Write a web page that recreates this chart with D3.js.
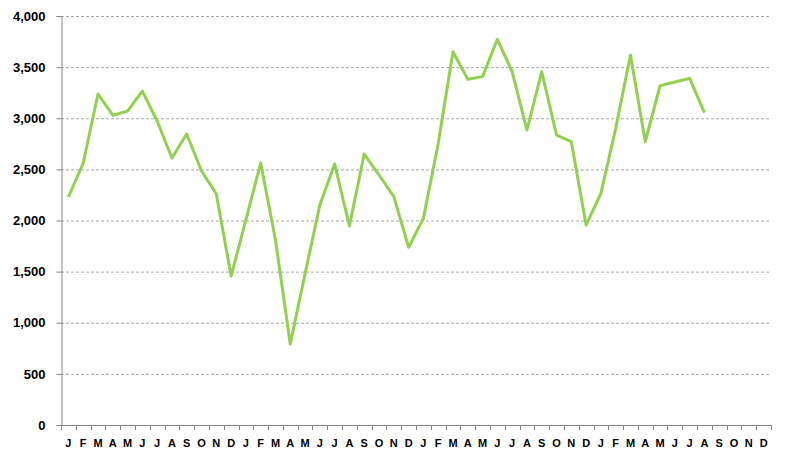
<!DOCTYPE html>
<html lang="en">
<head>
<meta charset="utf-8">
<title>Monthly series</title>
<style>
  body { margin: 0; background: #fff; }
  .label { font-family: "Liberation Sans", Arial, sans-serif; font-weight: bold; fill: #000; }
  .yLabel { font-size: 13px; }
  .xLabel { font-size: 11px; }
</style>
</head>
<body>
<div id="chart"></div>
<script src="https://cdn.jsdelivr.net/npm/d3@7/dist/d3.min.js"></script>
<script>

var months = ["J","F","M","A","M","J","J","A","S","O","N","D"];
var yTicks = [0, 500, 1000, 1500, 2000, 2500, 3000, 3500, 4000];
var values = [2230, 2560, 3237, 3030, 3070, 3266, 2973, 2611, 2846, 2484, 2260, 1457,
              2005, 2562, 1810, 792, 1480, 2152, 2553, 1946, 2650, 2445, 2233, 1738,
              2021, 2750, 3651, 3381, 3407, 3772, 3456, 2885, 3456, 2836, 2771, 1956,
              2266, 2900, 3619, 2771, 3319, 3355, 3390, 3055];

var width = 785, height = 459,
    margin = {top: 16, right: 14, bottom: 34, left: 61};

// 4 years of months
var cats = d3.range(48);

var svg = d3.select("#chart").append("svg")
    .attr("width", width)
    .attr("height", height);

var x = d3.scaleBand().domain(cats).range([margin.left, width - margin.right]);
var y = d3.scaleLinear().domain([0, 4000]).range([height - margin.bottom, margin.top]);

// gridlines
svg.append("g")
   .selectAll("line")
   .data(yTicks.filter(function(d){ return d > 0; }))
   .enter().append("line")
   .attr("x1", margin.left)
   .attr("x2", width - margin.right)
   .attr("y1", function(d){ return y(d) + 0.5; })
   .attr("y2", function(d){ return y(d) + 0.5; })
   .style("stroke", "#a6a6a6")
   .style("stroke-width", 1)
   .style("stroke-dasharray", "3,2");

// y axis
var yAxis = svg.append("g")
   .attr("transform", "translate(" + (margin.left + 0.5) + ",0)")
   .call(d3.axisLeft(y).tickValues(yTicks).tickSize(5).tickFormat(d3.format(",")));
yAxis.select(".domain").style("stroke", "#868686");
yAxis.selectAll(".tick line").style("stroke", "#868686");
yAxis.selectAll(".tick text")
   .attr("class", "label yLabel")
   .attr("x", -16)
   .attr("font-family", null)
   .attr("font-size", null);

// x axis: ticks at category boundaries
var xg = svg.append("g");
xg.append("line")
  .attr("x1", margin.left)
  .attr("x2", width - margin.right)
  .attr("y1", y(0) + 0.5)
  .attr("y2", y(0) + 0.5)
  .style("stroke", "#868686");
xg.selectAll("line.tick")
  .data(d3.range(49))
  .enter().append("line")
  .attr("class", "tick")
  .attr("x1", function(i){ return Math.round(margin.left + i * x.step()) + 0.5; })
  .attr("x2", function(i){ return Math.round(margin.left + i * x.step()) + 0.5; })
  .attr("y1", y(0))
  .attr("y2", y(0) + 5)
  .style("stroke", "#868686");
xg.selectAll("text")
  .data(cats)
  .enter().append("text")
  .attr("class", "label xLabel")
  .attr("text-anchor", "middle")
  .attr("x", function(d){ return x(d) + x.bandwidth() / 2; })
  .attr("y", y(0) + 22)
  .text(function(d){ return months[d % 12]; });

// line
var line = d3.line()
  .x(function(d, i){ return x(i) + x.bandwidth() / 2; })
  .y(function(d){ return y(d); });

svg.append("path")
   .datum(values)
   .attr("d", line)
   .style("fill", "none")
   .style("stroke", "#92D050")
   .style("stroke-width", 3)
   .style("stroke-linejoin", "round");

</script>
</body>
</html>
